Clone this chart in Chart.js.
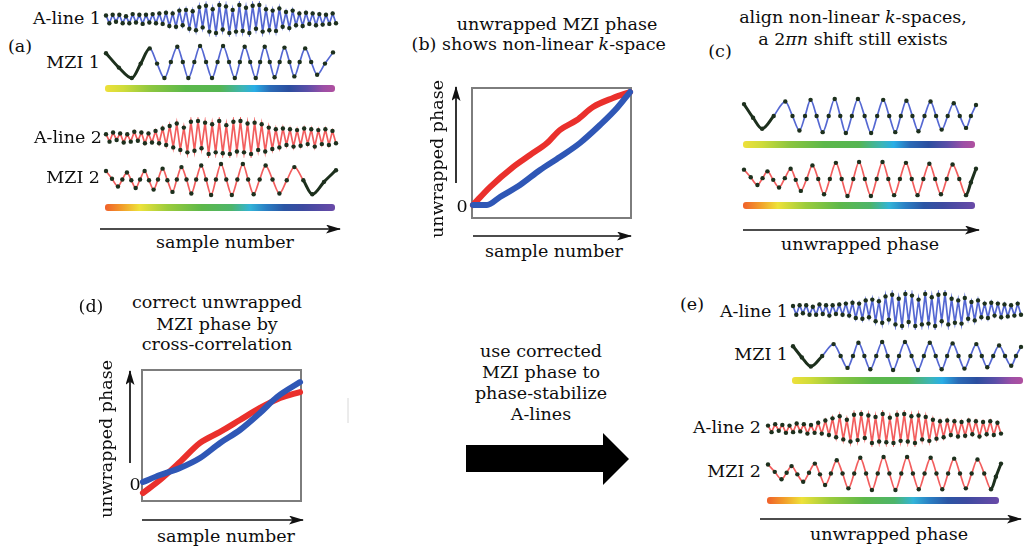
<!DOCTYPE html>
<html>
<head>
<meta charset="utf-8">
<script src="https://cdn.jsdelivr.net/npm/chart.js@4.4.1/dist/chart.umd.min.js"></script>
<style>
  body { margin: 0; background: #fff; }
  #fig { position: relative; width: 1032px; height: 551px; overflow: hidden;
         font-family: "DejaVu Serif", serif; font-size: 17.5px; color: #0d0d0d; }
  .t { position: absolute; white-space: nowrap; line-height: 1; }
  canvas { position: absolute; }
  .bar { position: absolute; border-radius: 3px; height: 7px; }
  .g1 { background: linear-gradient(to right, #eee03a 0%, #cfdc3a 8%, #8cc63f 20%, #5cb84a 35%, #55b552 50%,
        #3cb5b8 60%, #29aee6 65%, #2b6ab6 72%, #2b4e9f 80%, #5b4ea8 88%, #9c4fa6 95%, #b0509f 100%); }
  .g2 { background: linear-gradient(to right, #f0602a 0%, #f29a2a 7%, #eee23a 15%, #9ccc3c 27%, #5db84a 42%,
        #4db56a 55%, #33b4d8 63%, #2a7fc4 70%, #2b55a4 78%, #3d4aa0 86%, #6a4aa8 100%); }
</style>
</head>
<body>
<div id="fig">
  <svg width="1032" height="551" style="position:absolute;left:0;top:0">
    <defs>
      <marker id="ah" markerWidth="15" markerHeight="9" refX="14" refY="4.5" orient="auto" markerUnits="userSpaceOnUse">
        <path d="M0,0 L15,4.5 L0,9 L3.5,4.5 Z" fill="#111"/>
      </marker>
    </defs>
    <g stroke="#111" stroke-width="1.7" marker-end="url(#ah)">
      <line x1="100" y1="229" x2="340" y2="229"/>
      <line x1="456" y1="183" x2="456" y2="87"/>
      <line x1="473" y1="236" x2="631" y2="236"/>
      <line x1="743" y1="230" x2="979" y2="230"/>
      <line x1="130" y1="463" x2="130" y2="371"/>
      <line x1="142" y1="520" x2="303" y2="520"/>
      <line x1="760" y1="519" x2="1021" y2="519"/>
    </g>
    <line x1="348" y1="398" x2="348" y2="423" stroke="#d8d8d8" stroke-width="1"/>
    <polygon points="466,445 603,445 603,433 629,459 603,485 603,472 466,472" fill="#000"/>
  </svg>
  <div class="bar g1" style="left:105px;top:85px;width:230px"></div>
  <div class="bar g2" style="left:105px;top:204px;width:230px"></div>
  <div class="bar g1" style="left:743px;top:141px;width:232px"></div>
  <div class="bar g2" style="left:743px;top:202px;width:232px"></div>
  <div class="bar g1" style="left:792px;top:377px;width:231px"></div>
  <div class="bar g2" style="left:767px;top:497px;width:232px"></div>
</div>
<script>
// A-lines: successive peaks and troughs, evenly spaced
let aline1 = [0.25, -0.3, 0.3, -0.2, 0.3, -0.3, 0.2, -0.3, 0.35, -0.25, 0.3, -0.35, 0.3, -0.25, 0.35, -0.3,
  0.4, -0.35, 0.45, -0.5, 0.4, -0.55, 0.6, -0.45,
  0.65, -0.7, 0.55, -0.8, 0.85, -0.6, 0.95, -0.9, 0.7, -1.0, 1.0, -0.75, 0.9, -1.0, 0.65, -0.9, 1.0, -0.85, 0.8, -1.0, 0.95, -0.7, 1.0, -0.9,
  0.7, -0.8, 0.6, -0.85, 0.75, -0.55, 0.5, -0.65, 0.6, -0.45,
  0.4, -0.5, 0.45, -0.35, 0.4, -0.45, 0.35, -0.4, 0.3, -0.35, 0.4, -0.3];
let aline2 = [0.2, -0.25, 0.3, -0.15, 0.25, -0.3, 0.2, -0.25, 0.35, -0.2, 0.3, -0.35, 0.25, -0.3, 0.4, -0.35,
  0.55, -0.45, 0.7, -0.6, 0.85, -0.75, 0.6, -0.9, 0.95, -0.8, 1.0, -0.65, 0.9, -1.0, 0.8, -0.9, 1.0, -0.95, 0.75, -1.0,
  0.95, -0.85, 1.0, -0.9, 0.85, -1.0, 0.9, -0.75, 0.8, -0.85,
  0.6, -0.7, 0.5, -0.6, 0.55, -0.45, 0.5, -0.55, 0.45, -0.5, 0.55, -0.4, 0.5, -0.55, 0.45, -0.4, 0.5, -0.45, 0.4, -0.35];

// MZI fringes in sample space (a): sample positions (0..1) and values
let mzi1SampleX = [0, 0.056, 0.112, 0.151, 0.19, 0.222, 0.254, 0.282, 0.31, 0.334, 0.358, 0.384, 0.409, 0.435, 0.461, 0.485, 0.509, 0.535, 0.56,
  0.582, 0.603, 0.627, 0.651, 0.67, 0.69, 0.712, 0.733, 0.755, 0.776, 0.798, 0.819, 0.842, 0.866, 0.892, 0.918, 0.952, 0.987];
let mzi1SampleY = [0.55, -0.35, -1, -0.1, 0.85, -0.1, -1, 0, 0.95, 0, -1, 0, 1, 0, -1, 0, 1, 0, -1,
  0, 0.95, 0, -1, 0, 0.95, 0, -0.95, 0, 0.9, 0, -0.9, 0, 0.85, 0, -0.8, -0.1, 0.6];
let mzi2SampleX = [0, 0.026, 0.052, 0.071, 0.091, 0.11, 0.129, 0.148, 0.168, 0.187, 0.207, 0.226, 0.246, 0.267, 0.289, 0.308, 0.328, 0.35, 0.371, 0.392, 0.414,
  0.435, 0.457, 0.478, 0.5, 0.523, 0.547, 0.571, 0.595, 0.618, 0.642, 0.668, 0.694, 0.724, 0.754, 0.786, 0.819, 0.858, 0.897, 0.948, 1];
let mzi2SampleY = [0.55, 0.05, -0.45, 0, 0.45, -0.05, -0.55, 0, 0.55, -0.05, -0.65, 0, 0.7, -0.05, -0.8, 0, 0.8, 0, -0.9, 0, 0.9,
  0, -1, 0, 1, 0, -1, 0, 1, 0, -0.95, 0, 0.9, 0, -0.9, -0.05, 0.8, -0.05, -0.95, -0.15, 0.6];

// MZI fringes in unwrapped phase (c, e)
let mzi1PhaseX = [0, 0.039, 0.078, 0.128, 0.178, 0.209, 0.239, 0.263, 0.287, 0.313, 0.339, 0.365, 0.391, 0.415, 0.439, 0.465, 0.491, 0.52, 0.548,
  0.574, 0.6, 0.626, 0.652, 0.676, 0.7, 0.726, 0.752, 0.778, 0.804, 0.828, 0.852, 0.878, 0.904, 0.93, 0.957, 0.978, 1];
let mzi1PhaseY = [0.7, -0.1, -0.75, 0, 0.85, 0, -0.85, 0, 0.95, 0, -0.95, 0, 1, 0, -1, 0, 1, 0, -1,
  0, 0.95, 0, -0.95, 0, 0.9, 0, -0.9, 0, 0.85, 0, -0.8, 0, 0.75, 0, -0.7, 0, 0.65];
let mzi2PhaseX = [0, 0.029, 0.058, 0.08, 0.101, 0.126, 0.151, 0.176, 0.201, 0.223, 0.245, 0.27, 0.295, 0.32, 0.345, 0.37, 0.396, 0.421, 0.446, 0.471, 0.496,
  0.521, 0.547, 0.572, 0.597, 0.622, 0.647, 0.672, 0.698, 0.723, 0.748, 0.773, 0.799, 0.824, 0.849, 0.874, 0.899, 0.928, 0.957, 0.978, 1];
let mzi2PhaseY = [0.55, 0.1, -0.35, 0.05, 0.45, -0.05, -0.5, 0.05, 0.6, -0.05, -0.7, 0, 0.8, 0, -0.9, 0, 0.95, 0, -1, 0, 1,
  0, -1, 0, 1, 0, -0.95, 0, 0.95, 0, -0.95, 0, 0.9, 0, -0.9, 0, 0.85, 0, -0.95, -0.2, 0.6];

// unwrapped phase vs sample number, (b) before and (d) after correction
let phaseRedBX = [0.006, 0.113, 0.258, 0.365, 0.472, 0.553, 0.66, 0.761, 0.887, 0.994];
let phaseRedBY = [0.1, 0.238, 0.392, 0.485, 0.577, 0.677, 0.754, 0.854, 0.923, 0.969];
let phaseBlueBX = [0.006, 0.094, 0.176, 0.302, 0.428, 0.553, 0.679, 0.805, 0.912, 0.994];
let phaseBlueBY = [0.1, 0.1, 0.162, 0.254, 0.369, 0.469, 0.577, 0.715, 0.846, 0.969];
let phaseRedDX = [0.006, 0.113, 0.239, 0.365, 0.491, 0.616, 0.742, 0.868, 0.994];
let phaseRedDY = [0.061, 0.16, 0.298, 0.443, 0.527, 0.618, 0.71, 0.786, 0.832];
let phaseBlueDX = [0.006, 0.113, 0.239, 0.365, 0.491, 0.616, 0.742, 0.849, 0.994];
let phaseBlueDY = [0.145, 0.198, 0.252, 0.328, 0.443, 0.542, 0.672, 0.794, 0.908];

const BLUE = "#5568d2";
const RED = "#f25e5e";
const DOT = "#1d301d";
let fig = document.getElementById("fig");

function pts(xs, ys) {
  return xs.map((x, i) => ({ x: x, y: ys[i] }));
}

function makeCanvas(left, top, w, h) {
  let c = document.createElement("canvas");
  c.width = w;
  c.height = h;
  c.style.left = left + "px";
  c.style.top = top + "px";
  fig.appendChild(c);
  return c.getContext("2d");
}

function baseOptions(pad, ymin, ymax) {
  return {
    responsive: false,
    animation: false,
    events: [],
    layout: { padding: pad },
    plugins: { legend: { display: false }, tooltip: { enabled: false } },
    scales: {
      x: { type: "linear", display: false, min: 0, max: 1 },
      y: { display: false, min: ymin, max: ymax },
    },
  };
}

// box = wave extent; dark = indices of segments drawn thick and dark
function wave(box, data, color, smooth, dark) {
  let ctx = makeCanvas(box[0] - 3, box[1] - 3, box[2] + 6, box[3] + 6);
  let isDark = (i) => dark && dark.indexOf(i) >= 0;
  new Chart(ctx, {
    type: "line",
    data: {
      datasets: [{
        data: data,
        borderColor: color,
        borderWidth: 1.7,
        cubicInterpolationMode: smooth ? "monotone" : "default",
        tension: 0,
        pointRadius: 2.2,
        pointBorderWidth: 0,
        pointBackgroundColor: DOT,
        clip: false,
        segment: {
          borderColor: (c) => (isDark(c.p0DataIndex) ? DOT : undefined),
          borderWidth: (c) => (isDark(c.p0DataIndex) ? 3 : undefined),
        },
      }],
    },
    options: baseOptions(3, -1, 1),
  });
}

function aline(box, values, color) {
  let data = values.map((v, i) => ({ x: i / (values.length - 1), y: v }));
  wave(box, data, color, false, null);
}

let frame = {
  id: "frame",
  beforeDatasetsDraw(chart) {
    let a = chart.chartArea;
    let ctx = chart.ctx;
    ctx.save();
    ctx.strokeStyle = "#7d7d7d";
    ctx.lineWidth = 2;
    ctx.strokeRect(a.left, a.top, a.right - a.left, a.bottom - a.top);
    ctx.restore();
  },
};

function phasePlot(box, red, blue) {
  let ctx = makeCanvas(box[0] - 8, box[1] - 8, box[2] + 16, box[3] + 16);
  let line = (data, color) => ({
    data: data,
    borderColor: color,
    borderWidth: 6,
    pointRadius: 0,
    cubicInterpolationMode: "monotone",
    clip: false,
    borderCapStyle: "round",
  });
  new Chart(ctx, {
    type: "line",
    data: { datasets: [line(blue, "#2f57b6"), line(red, "#ea302c")] },
    options: baseOptions(8, 0, 1),
    plugins: [frame],
  });
}

// panel (a)
aline([105, 4, 232, 30], aline1, BLUE);
wave([105, 45, 232, 34], pts(mzi1SampleX, mzi1SampleY), BLUE, true, [0, 1, 2, 3]);
aline([105, 120, 232, 35], aline2, RED);
wave([105, 163, 232, 33], pts(mzi2SampleX, mzi2SampleY), RED, true, [37, 38, 39]);
// panel (b), (d)
phasePlot([472, 88, 159, 130], pts(phaseRedBX, phaseRedBY), pts(phaseBlueBX, phaseBlueBY));
phasePlot([142, 370, 159, 131], pts(phaseRedDX, phaseRedDY), pts(phaseBlueDX, phaseBlueDY));
// panel (c)
wave([743, 98, 234, 36], pts(mzi1PhaseX, mzi1PhaseY), BLUE, true, [0, 1, 2]);
wave([743, 161, 234, 36], pts(mzi2PhaseX, mzi2PhaseY), RED, true, [38, 39]);
// panel (e)
aline([792, 293, 230, 34], aline1, BLUE);
wave([792, 341, 230, 30], pts(mzi1PhaseX, mzi1PhaseY), BLUE, true, [0, 1, 2]);
aline([767, 413, 235, 31], aline2, RED);
wave([767, 456, 235, 35], pts(mzi2PhaseX, mzi2PhaseY), RED, true, [38, 39]);

function txt(html, x, y, anchor, rot) {
  let d = document.createElement("div");
  d.className = "t";
  d.innerHTML = html;
  d.style.left = x + "px";
  d.style.top = y + "px";
  let tx = anchor == "r" ? "-100%" : "-50%";
  d.style.transform = "translate(" + tx + ",-50%)" + (rot ? " rotate(-90deg)" : "");
  fig.appendChild(d);
}

txt("(a)", 20, 47);
txt("A-line 1", 101, 19, "r");
txt("MZI 1", 100, 63, "r");
txt("A-line 2", 102, 138, "r");
txt("MZI 2", 100, 178, "r");
txt("sample number", 225, 243);

txt("unwrapped MZI phase", 557, 25);
txt("(b)", 424, 45);
txt("shows non-linear <i>k</i>-space", 554, 45);
txt("0", 462, 207);
txt("unwrapped phase", 438, 159, "c", true);
txt("sample number", 554, 252);

txt("align non-linear <i>k</i>-spaces,", 853, 18);
txt("a 2<i>πn</i> shift still exists", 853, 40);
txt("(c)", 720, 52);
txt("unwrapped phase", 860, 245);

txt("(d)", 91, 307);
txt("correct unwrapped", 217, 303);
txt("MZI phase by", 217, 325);
txt("cross-correlation", 217, 345);
txt("0", 135, 485);
txt("unwrapped phase", 107, 439, "c", true);
txt("sample number", 226, 537);

txt("use corrected", 541, 352);
txt("MZI phase to", 541, 373);
txt("phase-stabilize", 541, 394);
txt("A-lines", 541, 415);

txt("(e)", 692, 305);
txt("A-line 1", 788, 312, "r");
txt("MZI 1", 788, 355, "r");
txt("A-line 2", 761, 428, "r");
txt("MZI 2", 761, 472, "r");
txt("unwrapped phase", 889, 535);
</script>
</body>
</html>
